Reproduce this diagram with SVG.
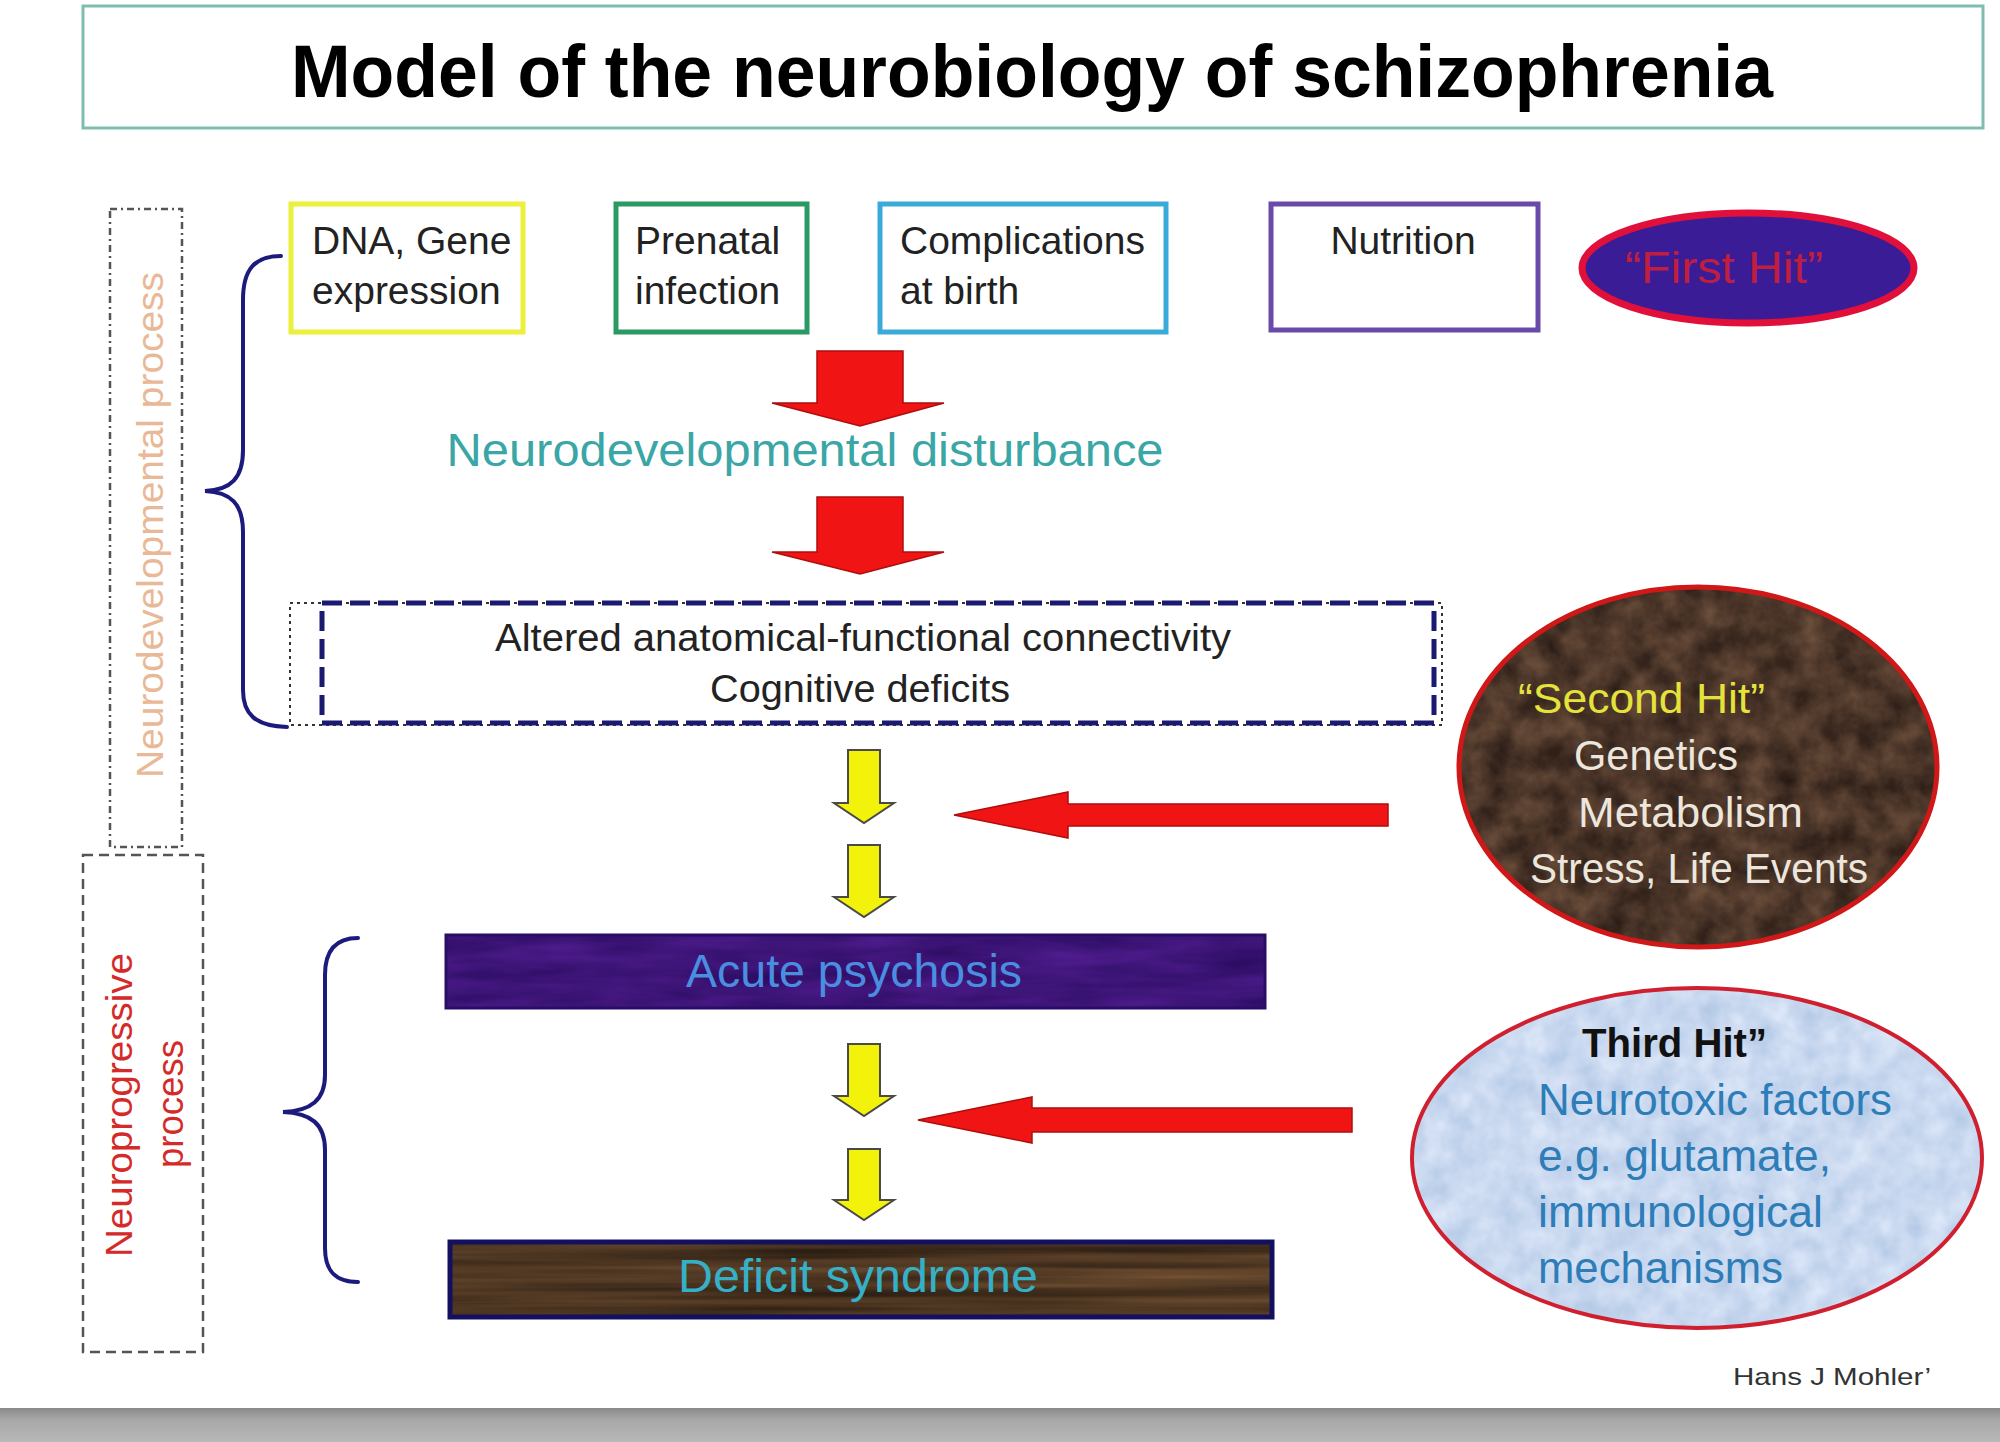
<svg xmlns="http://www.w3.org/2000/svg" width="2000" height="1442" viewBox="0 0 2000 1442">
<style>
  .t { font-family: "Liberation Sans", Arial, sans-serif; }
  .box { fill: #ffffff; stroke-width: 5; }
  .lbl { font-size: 39px; fill: #222222; }
  .brace { fill: none; stroke: #1c1a7c; stroke-width: 4; stroke-linecap: round; }
  .red { fill: #f01414; stroke: #b00d0d; stroke-width: 1.5; stroke-linejoin: miter; }
  .yel { fill: #f2f20a; stroke: #4a4a4a; stroke-width: 2; }
  .hit2 { font-size: 43px; fill: #ece6dc; }
  .hit3 { font-size: 44px; fill: #2d7db8; }
  filter { color-interpolation-filters: sRGB; }
</style>
<defs>
  <filter id="fBrown" x="-5%" y="-5%" width="110%" height="110%" color-interpolation-filters="sRGB">
    <feTurbulence type="fractalNoise" baseFrequency="0.035" numOctaves="4" seed="5" result="n"/>
    <feColorMatrix in="n" type="matrix" values="0.35 0 0 0 0.12  0.27 0 0 0 0.075  0.2 0 0 0 0.06  0 0 0 0 1" result="c"/>
    <feComposite in="c" in2="SourceGraphic" operator="in"/>
  </filter>
  <filter id="fBlue" x="-5%" y="-5%" width="110%" height="110%" color-interpolation-filters="sRGB">
    <feTurbulence type="fractalNoise" baseFrequency="0.04" numOctaves="3" seed="9" result="n"/>
    <feColorMatrix in="n" type="matrix" values="0.22 0 0 0 0.68  0.16 0 0 0 0.77  0.1 0 0 0 0.89  0 0 0 0 1" result="c"/>
    <feComposite in="c" in2="SourceGraphic" operator="in"/>
  </filter>
  <filter id="fPurple" x="0" y="0" width="100%" height="100%" color-interpolation-filters="sRGB">
    <feTurbulence type="fractalNoise" baseFrequency="0.01 0.06" numOctaves="3" seed="2" result="n"/>
    <feColorMatrix in="n" type="matrix" values="0.18 0 0 0 0.15  0.08 0 0 0 0.04  0.22 0 0 0 0.36  0 0 0 0 1" result="c"/>
    <feComposite in="c" in2="SourceGraphic" operator="in"/>
  </filter>
  <filter id="fStreak" x="0" y="0" width="100%" height="100%" color-interpolation-filters="sRGB">
    <feTurbulence type="fractalNoise" baseFrequency="0.002 0.09" numOctaves="3" seed="4" result="n"/>
    <feColorMatrix in="n" type="matrix" values="0.4 0 0 0 0.1  0.28 0 0 0 0.07  0.18 0 0 0 0.04  0 0 0 0 1" result="c"/>
    <feComposite in="c" in2="SourceGraphic" operator="in"/>
  </filter>
  <linearGradient id="gBottom" x1="0" y1="0" x2="0" y2="1">
    <stop offset="0" stop-color="#8a8a8a"/>
    <stop offset="0.35" stop-color="#a8a8a8"/>
    <stop offset="1" stop-color="#b8b8b8"/>
  </linearGradient>
</defs>

<rect x="0" y="0" width="2000" height="1442" fill="#ffffff"/>
<rect x="0" y="1408" width="2000" height="34" fill="url(#gBottom)"/>

<g id="title">
  <rect x="83" y="6" width="1900" height="122" fill="#ffffff" stroke="#80bdb0" stroke-width="3"/>
  <text class="t" x="291" y="97" font-size="74" font-weight="bold" fill="#000000" textLength="1482" lengthAdjust="spacingAndGlyphs">Model of the neurobiology of schizophrenia</text>
</g>

<g id="neurodevelopmental-process">
  <rect x="110" y="209" width="72" height="638" fill="none" stroke="#555555" stroke-width="2.5" stroke-dasharray="7 4 2 4"/>
  <text class="t" transform="translate(163,525) rotate(-90)" text-anchor="middle" font-size="36" fill="#e9b896" textLength="506" lengthAdjust="spacingAndGlyphs">Neurodevelopmental process</text>
</g>

<g id="neuroprogressive-process">
  <rect x="83" y="855" width="120" height="497" fill="none" stroke="#555555" stroke-width="2.5" stroke-dasharray="10 6"/>
  <text class="t" transform="translate(132,1105) rotate(-90)" text-anchor="middle" font-size="37" fill="#d42a2a" textLength="304" lengthAdjust="spacingAndGlyphs">Neuroprogressive</text>
  <text class="t" transform="translate(183,1104) rotate(-90)" text-anchor="middle" font-size="37" fill="#d42a2a" textLength="128" lengthAdjust="spacingAndGlyphs">process</text>
</g>

<g id="dna-gene-expression">
  <rect class="box" x="291" y="204" width="232" height="128" stroke="#ecf03c"/>
  <text class="t lbl" x="312" y="254">DNA, Gene</text>
  <text class="t lbl" x="312" y="304">expression</text>
</g>
<g id="prenatal-infection">
  <rect class="box" x="616" y="204" width="191" height="128" stroke="#2a9a64"/>
  <text class="t lbl" x="635" y="254">Prenatal</text>
  <text class="t lbl" x="635" y="304">infection</text>
</g>
<g id="complications-at-birth">
  <rect class="box" x="880" y="204" width="286" height="128" stroke="#3aaad8"/>
  <text class="t lbl" x="900" y="254">Complications</text>
  <text class="t lbl" x="900" y="304">at birth</text>
</g>
<g id="nutrition">
  <rect class="box" x="1271" y="204" width="267" height="126" stroke="#6a4aa8"/>
  <text class="t lbl" x="1403" y="254" text-anchor="middle">Nutrition</text>
</g>
<g id="first-hit">
  <ellipse cx="1748" cy="268" rx="166" ry="55" fill="#3a1c96" stroke="#e0103a" stroke-width="7"/>
  <text class="t" x="1724" y="283" text-anchor="middle" font-size="44" fill="#c01e40" textLength="198" lengthAdjust="spacingAndGlyphs">“First Hit”</text>
</g>

<g id="neurodevelopmental-disturbance">
  <text class="t" x="805" y="466" text-anchor="middle" font-size="46" fill="#3aa6a6" textLength="717" lengthAdjust="spacingAndGlyphs">Neurodevelopmental disturbance</text>
</g>

<g id="altered-connectivity">
  <rect x="290" y="603" width="1152" height="122" fill="#ffffff" stroke="#333333" stroke-width="2" stroke-dasharray="3 4"/>
  <rect x="322" y="603" width="1112" height="120" fill="none" stroke="#1a1a70" stroke-width="5" stroke-dasharray="20 8"/>
  <text class="t" x="863" y="651" text-anchor="middle" font-size="38" fill="#222222" textLength="736" lengthAdjust="spacingAndGlyphs">Altered anatomical-functional connectivity</text>
  <text class="t" x="860" y="702" text-anchor="middle" font-size="38" fill="#222222" textLength="300" lengthAdjust="spacingAndGlyphs">Cognitive deficits</text>
</g>

<g id="second-hit">
  <ellipse cx="1698" cy="767" rx="239" ry="180" fill="#000000" filter="url(#fBrown)"/>
  <ellipse cx="1698" cy="767" rx="239" ry="180" fill="none" stroke="#d01818" stroke-width="5"/>
  <text class="t" x="1518" y="713" font-size="43" fill="#e6e23c" textLength="247" lengthAdjust="spacingAndGlyphs">“Second Hit”</text>
  <text class="t hit2" x="1574" y="770" textLength="164" lengthAdjust="spacingAndGlyphs">Genetics</text>
  <text class="t hit2" x="1578" y="827" textLength="225" lengthAdjust="spacingAndGlyphs">Metabolism</text>
  <text class="t hit2" x="1530" y="883" textLength="338" lengthAdjust="spacingAndGlyphs">Stress, Life Events</text>
</g>

<g id="acute-psychosis">
  <rect x="446" y="935" width="819" height="73" fill="#000000" filter="url(#fPurple)"/>
  <rect x="446" y="935" width="819" height="73" fill="none" stroke="#2a0e66" stroke-width="3"/>
  <text class="t" x="854" y="987" text-anchor="middle" font-size="46" fill="#4a8ee0" textLength="336" lengthAdjust="spacingAndGlyphs">Acute psychosis</text>
</g>

<g id="deficit-syndrome">
  <rect x="450" y="1242" width="822" height="75" fill="#000000" filter="url(#fStreak)"/>
  <rect x="450" y="1242" width="822" height="75" fill="none" stroke="#141060" stroke-width="5"/>
  <text class="t" x="858" y="1292" text-anchor="middle" font-size="46" fill="#36b0c6" textLength="360" lengthAdjust="spacingAndGlyphs">Deficit syndrome</text>
</g>

<g id="third-hit">
  <ellipse cx="1697" cy="1158" rx="285" ry="170" fill="#000000" filter="url(#fBlue)"/>
  <ellipse cx="1697" cy="1158" rx="285" ry="170" fill="none" stroke="#d02030" stroke-width="4"/>
  <text class="t" x="1582" y="1057" font-size="40" font-weight="bold" fill="#111111" textLength="185" lengthAdjust="spacingAndGlyphs">Third Hit”</text>
  <text class="t hit3" x="1538" y="1115" textLength="354" lengthAdjust="spacingAndGlyphs">Neurotoxic factors</text>
  <text class="t hit3" x="1538" y="1171" textLength="293" lengthAdjust="spacingAndGlyphs">e.g. glutamate,</text>
  <text class="t hit3" x="1538" y="1227" textLength="285" lengthAdjust="spacingAndGlyphs">immunological</text>
  <text class="t hit3" x="1538" y="1283" textLength="245" lengthAdjust="spacingAndGlyphs">mechanisms</text>
</g>

<g id="braces">
  <path class="brace" d="M 281 256 C 254 256 243 270 243 300 L 243 450 C 243 478 231 490 205 491 C 231 492 243 504 243 532 L 243 690 C 243 714 255 726 287 727"/>
  <path class="brace" d="M 358 938 C 336 938 325 950 325 975 L 325 1075 C 325 1100 311 1111 283 1112 C 311 1113 325 1124 325 1150 L 325 1248 C 325 1272 336 1282 358 1282"/>
</g>

<g id="connectors">
  <polygon class="red" points="817,351 903,351 903,403 944,403 860,426 772,403 817,403"/>
  <polygon class="red" points="817,497 903,497 903,552 944,552 860,574 772,552 817,552"/>
  <polygon class="yel" points="848,750 880,750 880,803 894,803 864,823 834,803 848,803"/>
  <polygon class="yel" points="848,845 880,845 880,897 894,897 864,917 834,897 848,897"/>
  <polygon class="yel" points="848,1044 880,1044 880,1096 894,1096 864,1116 834,1096 848,1096"/>
  <polygon class="yel" points="848,1149 880,1149 880,1200 894,1200 864,1220 834,1200 848,1200"/>
  <polygon class="red" points="1388,804 1068,804 1068,792 954,815 1068,838 1068,826 1388,826"/>
  <polygon class="red" points="1352,1108 1032,1108 1032,1097 918,1120 1032,1143 1032,1132 1352,1132"/>
</g>

<g id="credit">
  <text class="t" x="1733" y="1385" font-size="24" fill="#333333" textLength="198" lengthAdjust="spacingAndGlyphs">Hans J Mohler’</text>
</g>
</svg>
